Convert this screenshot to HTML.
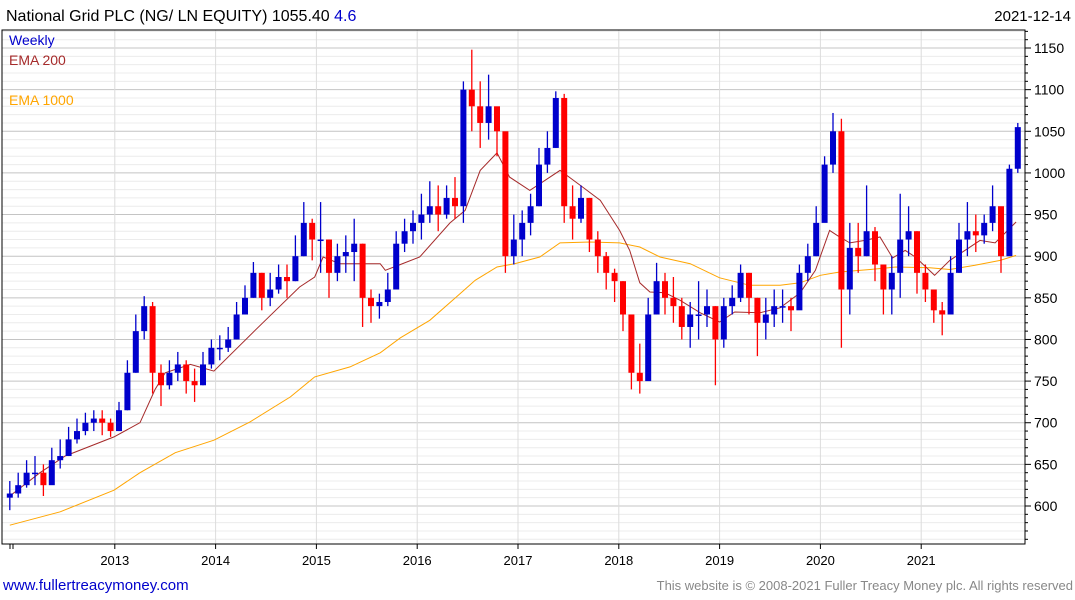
<!DOCTYPE html>
<html><head><meta charset="utf-8">
<style>
body{margin:0;background:#fff;width:1075px;height:600px;overflow:hidden;font-family:"Liberation Sans",sans-serif;}
svg{display:block}
</style></head>
<body>
<svg id="chart" width="1075" height="600">
<text x="6" y="21" font-size="16" fill="#000">National Grid PLC (NG/ LN EQUITY) 1055.40 <tspan fill="#0000cc">4.6</tspan></text>
<text x="1071" y="21" font-size="15" fill="#000" text-anchor="end">2021-12-14</text>
<g id="grid"></g>
<g id="emas"></g>
<g id="bars"></g>
<rect x="2" y="30" width="1023" height="514" fill="none" stroke="#000" stroke-width="1"/>
<g id="axes"></g>
<text x="9" y="45" font-size="14" fill="#0000cc">Weekly</text>
<text x="9" y="65" font-size="14" fill="#a52a2a">EMA 200</text>
<text x="9" y="105" font-size="14" fill="#ffa500">EMA 1000</text>
<text x="3" y="590" font-size="15" fill="#0000cc">www.fullertreacymoney.com</text>
<text x="1073" y="590" font-size="13" fill="#888" text-anchor="end">This website is © 2008-2021 Fuller Treacy Money plc. All rights reserved</text>
</svg>
<script>
// monthly data from Dec 2011 (index 0) to Dec 2021
const closes=[615,
625,640,640,625,655,660,680,690,700,705,700,690,
715,760,810,840,760,745,760,770,750,745,770,790,
790,800,830,850,880,850,860,875,870,900,940,920,
920,880,900,905,915,850,840,845,860,915,930,940,
950,960,950,970,960,1100,1080,1060,1080,1050,900,920,
940,960,1010,1030,1090,960,945,970,920,900,880,870,
830,760,750,830,870,850,840,815,830,830,840,800,
840,850,880,850,820,830,840,840,835,880,900,940,
1010,1050,860,910,900,930,890,860,880,920,930,880,
860,835,830,880,920,930,925,940,960,900,1005,1055];
const highs=[630,
640,655,660,650,670,680,695,705,712,715,715,705,
725,775,830,852,845,770,775,785,775,765,785,800,
805,815,845,865,893,880,880,890,890,925,965,945,
965,920,915,925,945,915,860,855,880,930,945,955,
975,990,985,985,995,1110,1148,1110,1118,1075,1040,950,
955,975,1030,1050,1098,1095,985,985,970,930,905,885,
870,820,795,850,892,880,875,850,845,870,860,840,
850,865,890,880,850,850,860,860,850,890,915,960,
1020,1072,1065,940,940,985,935,880,900,975,960,930,
890,860,845,900,940,965,950,950,985,935,1010,1060];
const lows=[595,
610,622,625,612,635,645,660,675,685,690,685,683,
690,715,760,800,735,720,740,750,735,725,745,765,
775,785,800,830,850,835,840,855,850,870,900,895,
880,850,870,880,870,815,820,825,840,875,905,915,
920,940,930,945,945,940,1050,1030,1040,1020,880,890,
900,925,960,1000,1030,940,920,940,905,880,860,845,
810,740,735,770,830,830,820,800,790,800,815,745,
790,830,845,830,780,800,815,820,810,850,870,900,
950,1000,790,830,880,900,870,830,830,850,900,855,
845,820,805,840,880,900,905,915,930,880,940,1000];
const ema200Months=[-1,2.6,5.6,11.4,14.5,16.3,17.5,20.5,23.3,28.2,33.5,35.3,36.3,38.3,43.1,43.7,45.5,47.8,51.4,53.2,55,57,58.5,60.9,62.7,64.5,67.2,69.3,71.6,72.8,74,75.2,77,78.8,81.2,83.5,85.3,88.3,90.7,93.1,94.9,96.6,97.5,99,100.8,102.6,104.1,105.6,106.8,109.1,110.9,112.7,114.5,116.3,117.5,118.8];
const ema200Vals=[612,640,660,683,700,740,760,770,762,811,863,875,899,891,891,883,890,899,940,955,1003,1024,995,979,991,1003,983,967,931,907,868,857,856,847,832,821,833,832,838,856,883,931,925,916,919,923,898,907,899,877,895,907,919,916,928,941];
const ema1000Months=[-1,5,11.4,14.5,18.7,23.3,27.6,32.4,35.3,39.5,43.1,45.5,49,52.6,54.4,57,59.1,62.1,64.5,68.1,71.6,74,76.4,80,83.5,87.1,90.7,93.1,95.5,97.8,101.4,104.5,108.5,110.9,113.9,116.9,118.8];
const ema1000Vals=[577,593,619,640,664,679,701,731,755,767,784,802,823,855,871,887,891,899,916,917,916,911,899,891,874,865,865,868,877,881,884,887,886,884,889,895,901];
const yTicks=[600,650,700,750,800,850,900,950,1000,1050,1100,1150];
const xYears=[2013,2014,2015,2016,2017,2018,2019,2020,2021];

const NS="http://www.w3.org/2000/svg";
const Y0=506,PPV=0.8327;
function y(v){return Y0-(v-600)*PPV;}
function xm(m){return 14+(m+0.5)*8.4;}
function xYear(yr){return 14+(yr-2012)*12*8.4;}
function el(tag,attrs,parent){const e=document.createElementNS(NS,tag);for(const k in attrs)e.setAttribute(k,attrs[k]);parent.appendChild(e);return e;}

const grid=document.getElementById('grid'),axes=document.getElementById('axes'),bars=document.getElementById('bars'),emas=document.getElementById('emas');
for(let v=560;v<=1170;v+=10){
  const major=v%50===0;
  const l=el('line',{x1:2,x2:1025,y1:y(v),y2:y(v),stroke:major?'#c4c4c4':'#ececec','stroke-width':1},grid);
  
  
  const t=el('line',{x1:1025,x2:major?1031:1028,y1:y(v),y2:y(v),stroke:'#000'},axes);
  
  
}
yTicks.forEach(v=>{
  const t=el('text',{x:1034,y:y(v)+5,'font-size':14,fill:'#000'},axes);
  t.textContent=v;
  
  
});
xYears.forEach(yr=>{
  const x=xYear(yr);
  const g=el('line',{x1:x,x2:x,y1:30,y2:544,stroke:'#dcdcdc'},grid);
  
  
  const t=el('line',{x1:x,x2:x,y1:544,y2:549,stroke:'#000'},axes);
  
  
  const lb=el('text',{x:x,y:565,'font-size':13,fill:'#000','text-anchor':'middle'},axes);
  lb.textContent=yr;
  
  
});
[xYear(2012)-4,xYear(2012)-1].forEach(x=>{
  const t=el('line',{x1:x,x2:x,y1:544,y2:549,stroke:'#000'},axes);
  
  
});

function line(months,vals,color,name){
  const d=months.map((m,i)=>(i?'L':'M')+xm(m).toFixed(1)+' '+y(vals[i]).toFixed(1)).join(' ');
  const p=el('path',{d:d,fill:'none',stroke:color,'stroke-width':1},emas);
  
  
}
line(ema1000Months,ema1000Vals,'#ffa500','ema-1000-line');
line(ema200Months,ema200Vals,'#a52a2a','ema-200-line');

closes.forEach((c,i)=>{
  const m=i-1;
  const o=i?closes[i-1]:c-5;
  const col=c>=o?'#0000cc':'#ff0000';
  const x=xm(m);
  const w=el('line',{x1:x,x2:x,y1:y(highs[i]),y2:y(lows[i]),stroke:col,'stroke-width':1.3},bars);
  
  
  const top=y(Math.max(o,c)),bot=y(Math.min(o,c));
  const r=el('rect',{x:x-3,y:top,width:6,height:Math.max(1.5,bot-top),fill:col},bars);
  
  
});
</script>
</body></html>
